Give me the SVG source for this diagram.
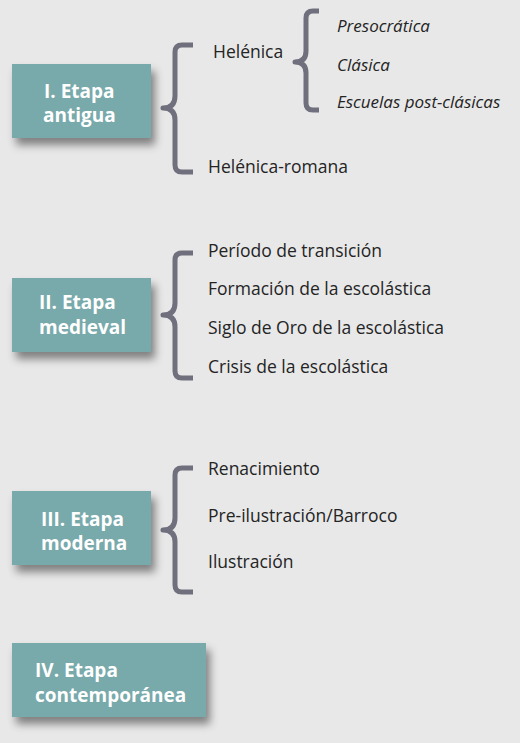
<svg xmlns="http://www.w3.org/2000/svg" width="520" height="743" viewBox="0 0 520 743">
<defs>
<style>
.box{fill:#78a9ab}
.bt{font-family:"Open Sans","Noto Sans",sans-serif;font-weight:700;font-size:19px;fill:#ffffff}
.it{font-family:"Open Sans","Noto Sans",sans-serif;font-size:17.5px;fill:#242424}
.ii{font-family:"Open Sans","Noto Sans",sans-serif;font-size:17px;font-style:italic;fill:#242424}
.br{fill:none;stroke:#6f6f7d;stroke-width:5;stroke-linecap:butt;stroke-linejoin:round}
</style>
<filter id="sh" x="-20%" y="-20%" width="150%" height="160%">
<feDropShadow dx="4" dy="7" stdDeviation="4" flood-color="#000" flood-opacity="0.45"/>
</filter>
</defs>
<rect width="520" height="743" fill="#e8e8e8"/>

<g id="connectors">
<path class="br" d="M193 45 H182 Q175 45 175 52 V96 Q175 108 163 108 Q175 108 175 120 V165 Q175 172 182 172 H193"/>
<path class="br" d="M319 11 H313 Q306 11 306 18 V51 Q306 62 295 62 Q306 62 306 73 V103 Q306 110 313 110 H319"/>
<path class="br" d="M193 253 H182 Q175 253 175 260 V303 Q175 315 163 315 Q175 315 175 327 V371 Q175 378 182 378 H193"/>
<path class="br" d="M193 468 H182 Q175 468 175 475 V518 Q175 530 163 530 Q175 530 175 542 V585 Q175 592 182 592 H193"/>
</g>

<g id="n1">
<rect class="box" x="12" y="64" width="139" height="74" filter="url(#sh)"/>
<text class="bt" x="44" y="98">I. Etapa</text>
<text class="bt" x="43" y="122">antigua</text>
</g>
<g id="n1a"><text class="it" x="213" y="58">Helénica</text></g>
<g id="n1b"><text class="it" x="208" y="173">Helénica-romana</text></g>
<g id="n1a1"><text class="ii" x="337" y="32">Presocrática</text></g>
<g id="n1a2"><text class="ii" x="337" y="71">Clásica</text></g>
<g id="n1a3"><text class="ii" x="337" y="108">Escuelas post-clásicas</text></g>

<g id="n2">
<rect class="box" x="12" y="278" width="139" height="74" filter="url(#sh)"/>
<text class="bt" x="39" y="309">II. Etapa</text>
<text class="bt" x="39" y="334">medieval</text>
</g>
<g id="n2a"><text class="it" x="208" y="257">Período de transición</text></g>
<g id="n2b"><text class="it" x="208" y="295">Formación de la escolástica</text></g>
<g id="n2c"><text class="it" x="208" y="334">Siglo de Oro de la escolástica</text></g>
<g id="n2d"><text class="it" x="208" y="373">Crisis de la escolástica</text></g>

<g id="n3">
<rect class="box" x="12" y="491" width="139" height="74" filter="url(#sh)"/>
<text class="bt" x="41" y="526">III. Etapa</text>
<text class="bt" x="41" y="550">moderna</text>
</g>
<g id="n3a"><text class="it" x="208" y="475">Renacimiento</text></g>
<g id="n3b"><text class="it" x="208" y="522">Pre-ilustración/Barroco</text></g>
<g id="n3c"><text class="it" x="208" y="568">Ilustración</text></g>

<g id="n4">
<rect class="box" x="12" y="643" width="194" height="74" filter="url(#sh)"/>
<text class="bt" x="35" y="677">IV. Etapa</text>
<text class="bt" x="35" y="702">contemporánea</text>
</g>
</svg>
